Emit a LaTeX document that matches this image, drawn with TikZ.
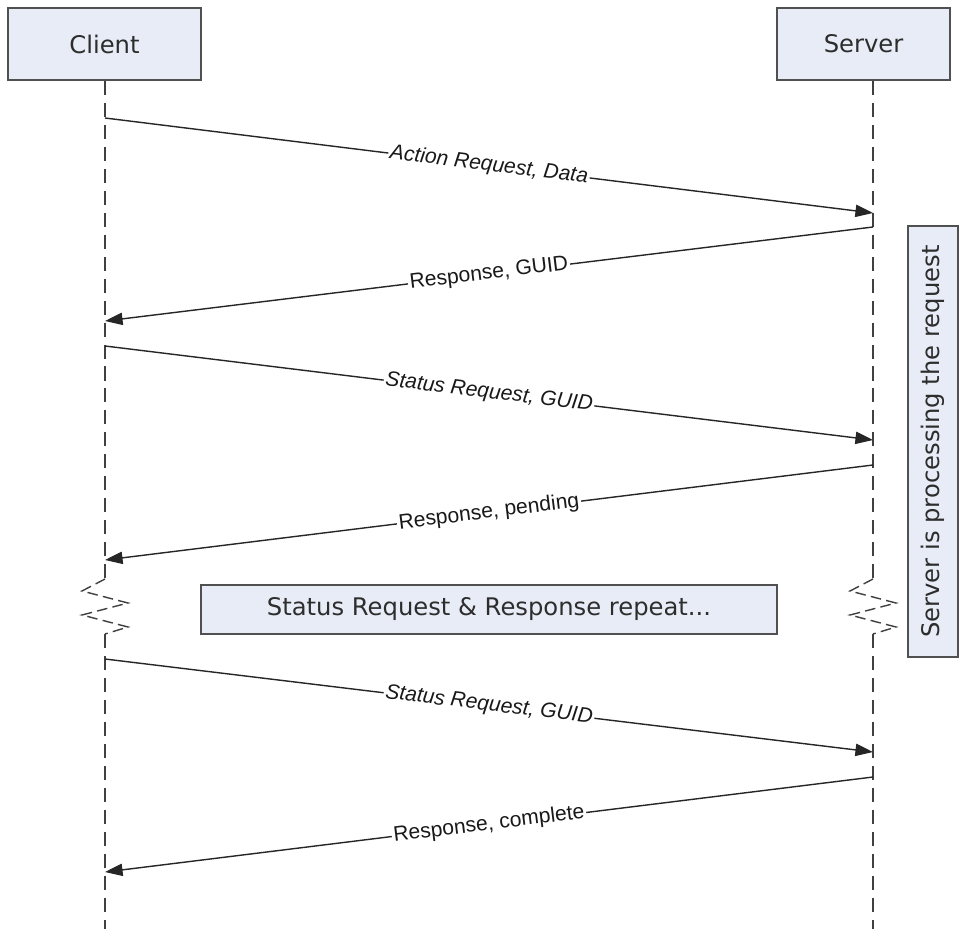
\documentclass[tikz,border=0pt]{standalone}
\usepackage{fontspec}
\setmainfont{Liberation Sans}
\newfontfamily\boxfont{DejaVu Sans}
\usetikzlibrary{arrows.meta,positioning,calc}
\definecolor{boxfill}{RGB}{232,236,246}
\definecolor{boxline}{RGB}{80,80,80}
\definecolor{boxtext}{RGB}{45,45,45}

\begin{document}
\begin{tikzpicture}[
  x=0.02cm, y=-0.02cm,
  actor/.style={draw=boxline, fill=boxfill, line width=1.1pt, minimum height=1.44cm,
                text=boxtext, font=\boxfont\fontsize{13.8}{15}\selectfont},
  note/.style={draw=boxline, fill=boxfill, line width=1.1pt,
               text=boxtext, font=\boxfont\fontsize{13.8}{15}\selectfont},
  life/.style={draw=black!75, line width=0.8pt, dash pattern=on 8pt off 4.5pt},
  brk/.style={draw=black!75, line width=0.8pt, dash pattern=on 6pt off 3pt},
  msg/.style={-{Triangle[length=10pt,width=7pt]}, line width=0.8pt, draw=black!85},
  lbl/.style={midway, sloped, fill=white, inner sep=1pt, text=black!90,
              font=\fontsize{12}{14}\selectfont},
  ilbl/.style={lbl, font=\fontsize{12}{14}\selectfont\itshape}
]
\useasboundingbox (0,0) rectangle (959,929);

\node[actor, minimum width=3.86cm] (client) at (104.5,44) {Client};
\node[actor, minimum width=3.46cm] (server) at (863.5,44) {Server};

% lifelines, broken where the exchange repeats
\coordinate (ctop) at (client.south -| 105,0);
\coordinate (stop) at (server.south -| 873,0);
\coordinate (cbrk1) at (105,579);
\coordinate (cbrk2) at (105,634);
\coordinate (cend) at (105,929);
\coordinate (sbrk1) at (873,579);
\coordinate (sbrk2) at (873,634);
\coordinate (send) at (873,929);
\draw[life] (ctop) -- (cbrk1);
\draw[life] (cbrk2) -- (cend);
\draw[life] (stop) -- (sbrk1);
\draw[life] (sbrk2) -- (send);
\draw[brk] (cbrk1) -- ++(-23,12) -- ++(46,12) -- ++(-46,12) -- ++(46,12) -- (cbrk2);
\draw[brk] (sbrk1) -- ++(-23,12) -- ++(46,12) -- ++(-46,12) -- ++(46,12) -- (sbrk2);

\node[note, minimum width=11.52cm, minimum height=0.98cm] (rep) at (489,609.5)
  {Status Request \& Response repeat...};
\node[note, rotate=90, minimum width=8.62cm, minimum height=1.0cm] (proc) at (933,441.5)
  {Server is processing the request};

% message end points on the lifelines
\coordinate (c1) at (105,118);  \coordinate (s1) at (873,213);
\coordinate (s2) at (873,227);  \coordinate (c2) at (105,321);
\coordinate (c3) at (105,346);  \coordinate (s3) at (873,440);
\coordinate (s4) at (873,465);  \coordinate (c4) at (105,560);
\coordinate (c5) at (105,659);  \coordinate (s5) at (873,752);
\coordinate (s6) at (873,777);  \coordinate (c6) at (105,872);

\draw[msg] (c1) -- node[ilbl] {Action Request, Data} (s1);
\draw[msg] (s2) -- node[lbl] {Response, GUID} (c2);
\draw[msg] (c3) -- node[ilbl] {Status Request, GUID} (s3);
\draw[msg] (s4) -- node[lbl] {Response, pending} (c4);
\draw[msg] (c5) -- node[ilbl] {Status Request, GUID} (s5);
\draw[msg] (s6) -- node[lbl] {Response, complete} (c6);
\end{tikzpicture}
\end{document}
